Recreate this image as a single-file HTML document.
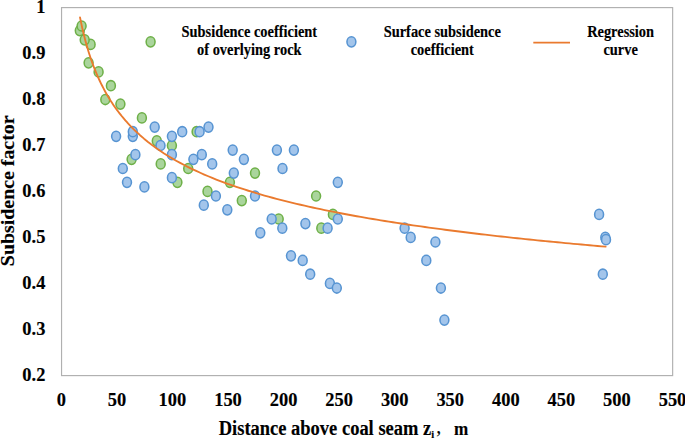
<!DOCTYPE html>
<html><head><meta charset="utf-8"><title>chart</title>
<style>
html,body{margin:0;padding:0;background:#fff;}
body{width:685px;height:439px;overflow:hidden;}
svg{display:block;}
text{font-family:"Liberation Serif",serif;font-weight:bold;fill:#000;stroke:#000;stroke-width:0.15px;}
.t18{font-size:19px;}
.lg{font-size:16px;}
.yt{font-size:18px;}
.xt{font-size:20px;}
</style></head><body>
<svg width="685" height="439" viewBox="0 0 685 439">
<rect x="0" y="0" width="685" height="439" fill="#fff"/>
<rect x="61.55" y="7.6" width="611.1" height="368.0" fill="#fff" stroke="#B0B0B0" stroke-width="1.15"/>
<text transform="translate(45.4,13.4) scale(0.97,1)" text-anchor="end" class="t18" id="y10">1</text><text transform="translate(45.4,59.4) scale(0.97,1)" text-anchor="end" class="t18" id="y9">0.9</text><text transform="translate(45.4,105.3) scale(0.97,1)" text-anchor="end" class="t18" id="y8">0.8</text><text transform="translate(45.4,151.3) scale(0.97,1)" text-anchor="end" class="t18" id="y7">0.7</text><text transform="translate(45.4,197.2) scale(0.97,1)" text-anchor="end" class="t18" id="y6">0.6</text><text transform="translate(45.4,243.2) scale(0.97,1)" text-anchor="end" class="t18" id="y5">0.5</text><text transform="translate(45.4,289.2) scale(0.97,1)" text-anchor="end" class="t18" id="y4">0.4</text><text transform="translate(45.4,335.1) scale(0.97,1)" text-anchor="end" class="t18" id="y3">0.3</text><text transform="translate(45.4,381.1) scale(0.97,1)" text-anchor="end" class="t18" id="y2">0.2</text>
<text transform="translate(61.3,405.6) scale(0.97,1)" text-anchor="middle" class="t18" id="x0">0</text><text transform="translate(116.9,405.6) scale(0.97,1)" text-anchor="middle" class="t18" id="x50">50</text><text transform="translate(172.4,405.6) scale(0.97,1)" text-anchor="middle" class="t18" id="x100">100</text><text transform="translate(228.0,405.6) scale(0.97,1)" text-anchor="middle" class="t18" id="x150">150</text><text transform="translate(283.6,405.6) scale(0.97,1)" text-anchor="middle" class="t18" id="x200">200</text><text transform="translate(339.1,405.6) scale(0.97,1)" text-anchor="middle" class="t18" id="x250">250</text><text transform="translate(394.7,405.6) scale(0.97,1)" text-anchor="middle" class="t18" id="x300">300</text><text transform="translate(450.2,405.6) scale(0.97,1)" text-anchor="middle" class="t18" id="x350">350</text><text transform="translate(505.8,405.6) scale(0.97,1)" text-anchor="middle" class="t18" id="x400">400</text><text transform="translate(561.4,405.6) scale(0.97,1)" text-anchor="middle" class="t18" id="x450">450</text><text transform="translate(616.9,405.6) scale(0.97,1)" text-anchor="middle" class="t18" id="x500">500</text><text transform="translate(672.5,405.6) scale(0.97,1)" text-anchor="middle" class="t18" id="x550">550</text>
<text transform="translate(14.0,190.8) rotate(-90) scale(1.105,1)" text-anchor="middle" class="yt" id="ytitle">Subsidence factor</text>
<text transform="translate(218.7,434.5) scale(0.925,1)" text-anchor="start" class="xt" id="xtitle">Distance above coal seam z</text><text x="432.7" y="438.2" text-anchor="middle" style="font-size:10.5px;font-weight:bold" id="xsub">i</text><text x="436.3" y="432.6" text-anchor="start" style="font-size:20px;font-weight:normal" id="xcomma">,</text><text transform="translate(454.0,434.5) scale(0.9,1)" style="font-size:19px" id="xm">m</text>
<ellipse cx="79.8" cy="30.6" rx="4.45" ry="5.1" fill="#AAD59C" stroke="#6EB048" stroke-width="1.55"/><ellipse cx="81.6" cy="26.0" rx="4.45" ry="5.1" fill="#AAD59C" stroke="#6EB048" stroke-width="1.55"/><ellipse cx="90.6" cy="44.4" rx="4.45" ry="5.1" fill="#AAD59C" stroke="#6EB048" stroke-width="1.55"/><ellipse cx="84.7" cy="39.8" rx="4.45" ry="5.1" fill="#AAD59C" stroke="#6EB048" stroke-width="1.55"/><ellipse cx="88.6" cy="62.8" rx="4.45" ry="5.1" fill="#AAD59C" stroke="#6EB048" stroke-width="1.55"/><ellipse cx="98.6" cy="71.9" rx="4.45" ry="5.1" fill="#AAD59C" stroke="#6EB048" stroke-width="1.55"/><ellipse cx="110.9" cy="85.7" rx="4.45" ry="5.1" fill="#AAD59C" stroke="#6EB048" stroke-width="1.55"/><ellipse cx="105.3" cy="99.5" rx="4.45" ry="5.1" fill="#AAD59C" stroke="#6EB048" stroke-width="1.55"/><ellipse cx="120.4" cy="104.1" rx="4.45" ry="5.1" fill="#AAD59C" stroke="#6EB048" stroke-width="1.55"/><ellipse cx="141.9" cy="117.9" rx="4.45" ry="5.1" fill="#AAD59C" stroke="#6EB048" stroke-width="1.55"/><ellipse cx="156.8" cy="140.9" rx="4.45" ry="5.1" fill="#AAD59C" stroke="#6EB048" stroke-width="1.55"/><ellipse cx="171.9" cy="145.5" rx="4.45" ry="5.1" fill="#AAD59C" stroke="#6EB048" stroke-width="1.55"/><ellipse cx="196.6" cy="131.7" rx="4.45" ry="5.1" fill="#AAD59C" stroke="#6EB048" stroke-width="1.55"/><ellipse cx="131.6" cy="159.3" rx="4.45" ry="5.1" fill="#AAD59C" stroke="#6EB048" stroke-width="1.55"/><ellipse cx="160.7" cy="163.9" rx="4.45" ry="5.1" fill="#AAD59C" stroke="#6EB048" stroke-width="1.55"/><ellipse cx="177.4" cy="182.3" rx="4.45" ry="5.1" fill="#AAD59C" stroke="#6EB048" stroke-width="1.55"/><ellipse cx="188.2" cy="168.5" rx="4.45" ry="5.1" fill="#AAD59C" stroke="#6EB048" stroke-width="1.55"/><ellipse cx="229.9" cy="182.3" rx="4.45" ry="5.1" fill="#AAD59C" stroke="#6EB048" stroke-width="1.55"/><ellipse cx="255.0" cy="173.1" rx="4.45" ry="5.1" fill="#AAD59C" stroke="#6EB048" stroke-width="1.55"/><ellipse cx="207.5" cy="191.4" rx="4.45" ry="5.1" fill="#AAD59C" stroke="#6EB048" stroke-width="1.55"/><ellipse cx="241.8" cy="200.6" rx="4.45" ry="5.1" fill="#AAD59C" stroke="#6EB048" stroke-width="1.55"/><ellipse cx="278.7" cy="219.0" rx="4.45" ry="5.1" fill="#AAD59C" stroke="#6EB048" stroke-width="1.55"/><ellipse cx="316.1" cy="196.0" rx="4.45" ry="5.1" fill="#AAD59C" stroke="#6EB048" stroke-width="1.55"/><ellipse cx="321.3" cy="228.2" rx="4.45" ry="5.1" fill="#AAD59C" stroke="#6EB048" stroke-width="1.55"/><ellipse cx="332.9" cy="214.4" rx="4.45" ry="5.1" fill="#AAD59C" stroke="#6EB048" stroke-width="1.55"/><ellipse cx="116.1" cy="136.3" rx="4.45" ry="5.1" fill="#A3C5EB" stroke="#5794D2" stroke-width="1.55"/><ellipse cx="132.8" cy="136.3" rx="4.45" ry="5.1" fill="#A3C5EB" stroke="#5794D2" stroke-width="1.55"/><ellipse cx="132.8" cy="131.7" rx="4.45" ry="5.1" fill="#A3C5EB" stroke="#5794D2" stroke-width="1.55"/><ellipse cx="154.7" cy="127.1" rx="4.45" ry="5.1" fill="#A3C5EB" stroke="#5794D2" stroke-width="1.55"/><ellipse cx="160.5" cy="145.5" rx="4.45" ry="5.1" fill="#A3C5EB" stroke="#5794D2" stroke-width="1.55"/><ellipse cx="171.9" cy="136.3" rx="4.45" ry="5.1" fill="#A3C5EB" stroke="#5794D2" stroke-width="1.55"/><ellipse cx="182.2" cy="131.7" rx="4.45" ry="5.1" fill="#A3C5EB" stroke="#5794D2" stroke-width="1.55"/><ellipse cx="199.6" cy="131.7" rx="4.45" ry="5.1" fill="#A3C5EB" stroke="#5794D2" stroke-width="1.55"/><ellipse cx="208.5" cy="127.1" rx="4.45" ry="5.1" fill="#A3C5EB" stroke="#5794D2" stroke-width="1.55"/><ellipse cx="171.9" cy="154.7" rx="4.45" ry="5.1" fill="#A3C5EB" stroke="#5794D2" stroke-width="1.55"/><ellipse cx="135.4" cy="154.7" rx="4.45" ry="5.1" fill="#A3C5EB" stroke="#5794D2" stroke-width="1.55"/><ellipse cx="122.8" cy="168.5" rx="4.45" ry="5.1" fill="#A3C5EB" stroke="#5794D2" stroke-width="1.55"/><ellipse cx="171.9" cy="177.7" rx="4.45" ry="5.1" fill="#A3C5EB" stroke="#5794D2" stroke-width="1.55"/><ellipse cx="127.0" cy="182.3" rx="4.45" ry="5.1" fill="#A3C5EB" stroke="#5794D2" stroke-width="1.55"/><ellipse cx="144.4" cy="186.9" rx="4.45" ry="5.1" fill="#A3C5EB" stroke="#5794D2" stroke-width="1.55"/><ellipse cx="193.4" cy="159.3" rx="4.45" ry="5.1" fill="#A3C5EB" stroke="#5794D2" stroke-width="1.55"/><ellipse cx="201.8" cy="154.7" rx="4.45" ry="5.1" fill="#A3C5EB" stroke="#5794D2" stroke-width="1.55"/><ellipse cx="212.2" cy="163.9" rx="4.45" ry="5.1" fill="#A3C5EB" stroke="#5794D2" stroke-width="1.55"/><ellipse cx="232.7" cy="150.1" rx="4.45" ry="5.1" fill="#A3C5EB" stroke="#5794D2" stroke-width="1.55"/><ellipse cx="243.9" cy="159.3" rx="4.45" ry="5.1" fill="#A3C5EB" stroke="#5794D2" stroke-width="1.55"/><ellipse cx="233.8" cy="173.1" rx="4.45" ry="5.1" fill="#A3C5EB" stroke="#5794D2" stroke-width="1.55"/><ellipse cx="276.9" cy="150.1" rx="4.45" ry="5.1" fill="#A3C5EB" stroke="#5794D2" stroke-width="1.55"/><ellipse cx="293.9" cy="150.1" rx="4.45" ry="5.1" fill="#A3C5EB" stroke="#5794D2" stroke-width="1.55"/><ellipse cx="282.5" cy="168.5" rx="4.45" ry="5.1" fill="#A3C5EB" stroke="#5794D2" stroke-width="1.55"/><ellipse cx="337.8" cy="182.3" rx="4.45" ry="5.1" fill="#A3C5EB" stroke="#5794D2" stroke-width="1.55"/><ellipse cx="215.9" cy="196.0" rx="4.45" ry="5.1" fill="#A3C5EB" stroke="#5794D2" stroke-width="1.55"/><ellipse cx="203.8" cy="205.2" rx="4.45" ry="5.1" fill="#A3C5EB" stroke="#5794D2" stroke-width="1.55"/><ellipse cx="227.3" cy="209.8" rx="4.45" ry="5.1" fill="#A3C5EB" stroke="#5794D2" stroke-width="1.55"/><ellipse cx="255.0" cy="196.0" rx="4.45" ry="5.1" fill="#A3C5EB" stroke="#5794D2" stroke-width="1.55"/><ellipse cx="271.7" cy="219.0" rx="4.45" ry="5.1" fill="#A3C5EB" stroke="#5794D2" stroke-width="1.55"/><ellipse cx="282.3" cy="228.2" rx="4.45" ry="5.1" fill="#A3C5EB" stroke="#5794D2" stroke-width="1.55"/><ellipse cx="260.3" cy="232.8" rx="4.45" ry="5.1" fill="#A3C5EB" stroke="#5794D2" stroke-width="1.55"/><ellipse cx="305.4" cy="223.6" rx="4.45" ry="5.1" fill="#A3C5EB" stroke="#5794D2" stroke-width="1.55"/><ellipse cx="327.6" cy="228.2" rx="4.45" ry="5.1" fill="#A3C5EB" stroke="#5794D2" stroke-width="1.55"/><ellipse cx="337.8" cy="219.0" rx="4.45" ry="5.1" fill="#A3C5EB" stroke="#5794D2" stroke-width="1.55"/><ellipse cx="291.0" cy="255.8" rx="4.45" ry="5.1" fill="#A3C5EB" stroke="#5794D2" stroke-width="1.55"/><ellipse cx="302.7" cy="260.4" rx="4.45" ry="5.1" fill="#A3C5EB" stroke="#5794D2" stroke-width="1.55"/><ellipse cx="310.2" cy="274.2" rx="4.45" ry="5.1" fill="#A3C5EB" stroke="#5794D2" stroke-width="1.55"/><ellipse cx="329.9" cy="283.4" rx="4.45" ry="5.1" fill="#A3C5EB" stroke="#5794D2" stroke-width="1.55"/><ellipse cx="336.8" cy="288.0" rx="4.45" ry="5.1" fill="#A3C5EB" stroke="#5794D2" stroke-width="1.55"/><ellipse cx="404.6" cy="228.2" rx="4.45" ry="5.1" fill="#A3C5EB" stroke="#5794D2" stroke-width="1.55"/><ellipse cx="410.7" cy="237.4" rx="4.45" ry="5.1" fill="#A3C5EB" stroke="#5794D2" stroke-width="1.55"/><ellipse cx="435.4" cy="242.0" rx="4.45" ry="5.1" fill="#A3C5EB" stroke="#5794D2" stroke-width="1.55"/><ellipse cx="426.3" cy="260.4" rx="4.45" ry="5.1" fill="#A3C5EB" stroke="#5794D2" stroke-width="1.55"/><ellipse cx="440.9" cy="288.0" rx="4.45" ry="5.1" fill="#A3C5EB" stroke="#5794D2" stroke-width="1.55"/><ellipse cx="444.4" cy="320.1" rx="4.45" ry="5.1" fill="#A3C5EB" stroke="#5794D2" stroke-width="1.55"/><ellipse cx="599.1" cy="214.4" rx="4.45" ry="5.1" fill="#A3C5EB" stroke="#5794D2" stroke-width="1.55"/><ellipse cx="605.3" cy="237.4" rx="4.45" ry="5.1" fill="#A3C5EB" stroke="#5794D2" stroke-width="1.55"/><ellipse cx="606.0" cy="239.7" rx="4.45" ry="5.1" fill="#A3C5EB" stroke="#5794D2" stroke-width="1.55"/><ellipse cx="602.8" cy="274.2" rx="4.45" ry="5.1" fill="#A3C5EB" stroke="#5794D2" stroke-width="1.55"/>
<path d="M80.02,17.34 L81.25,23.35 L82.48,28.93 L83.71,34.13 L84.94,38.99 L86.17,43.56 L87.40,47.86 L88.63,51.93 L89.86,55.77 L91.09,59.43 L92.32,62.90 L93.55,66.21 L94.78,69.37 L96.01,72.40 L97.24,75.29 L98.47,78.07 L99.70,80.74 L100.93,83.31 L102.16,85.78 L103.39,88.17 L104.62,90.47 L105.84,92.69 L107.07,94.84 L108.30,96.93 L109.53,98.94 L110.76,100.90 L111.99,102.80 L113.22,104.64 L114.45,106.43 L115.68,108.17 L116.91,109.87 L118.14,111.52 L119.37,113.12 L120.60,114.69 L121.83,116.21 L123.06,117.70 L124.29,119.16 L125.52,120.58 L126.75,121.97 L127.98,123.32 L131.99,127.55 L136.00,131.50 L140.02,135.19 L144.03,138.67 L148.04,141.94 L152.06,145.04 L156.07,147.98 L160.09,150.76 L164.10,153.42 L168.11,155.95 L172.13,158.37 L176.14,160.69 L180.15,162.91 L184.17,165.04 L188.18,167.08 L192.19,169.05 L196.21,170.95 L200.22,172.78 L204.24,174.55 L208.25,176.26 L212.26,177.92 L216.28,179.52 L220.29,181.07 L224.30,182.57 L228.32,184.04 L232.33,185.45 L236.35,186.83 L240.36,188.18 L244.37,189.48 L248.39,190.75 L252.40,191.99 L256.41,193.20 L260.43,194.38 L264.44,195.53 L268.45,196.65 L272.47,197.74 L276.48,198.81 L280.50,199.86 L284.51,200.89 L288.52,201.89 L292.54,202.87 L296.55,203.83 L300.56,204.77 L304.58,205.69 L308.59,206.60 L312.60,207.48 L316.62,208.35 L320.63,209.20 L324.65,210.04 L328.66,210.86 L332.67,211.67 L336.69,212.46 L340.70,213.24 L344.71,214.01 L348.73,214.76 L352.74,215.50 L356.75,216.22 L360.77,216.94 L364.78,217.64 L368.80,218.34 L372.81,219.02 L376.82,219.69 L380.84,220.35 L384.85,221.00 L388.86,221.64 L392.88,222.27 L396.89,222.90 L400.90,223.51 L404.92,224.12 L408.93,224.71 L412.95,225.30 L416.96,225.88 L420.97,226.45 L424.99,227.02 L429.00,227.57 L433.01,228.12 L437.03,228.67 L441.04,229.20 L445.06,229.73 L449.07,230.25 L453.08,230.77 L457.10,231.28 L461.11,231.78 L465.12,232.28 L469.14,232.77 L473.15,233.25 L477.16,233.73 L481.18,234.21 L485.19,234.68 L489.21,235.14 L493.22,235.60 L497.23,236.05 L501.25,236.50 L505.26,236.94 L509.27,237.38 L513.29,237.81 L517.30,238.24 L521.31,238.66 L525.33,239.08 L529.34,239.50 L533.36,239.91 L537.37,240.32 L541.38,240.72 L545.40,241.12 L549.41,241.51 L553.42,241.90 L557.44,242.29 L561.45,242.67 L565.46,243.05 L569.48,243.43 L573.49,243.80 L577.51,244.17 L581.52,244.53 L585.53,244.90 L589.55,245.25 L593.56,245.61 L597.57,245.96 L601.59,246.31 L605.60,246.66" fill="none" stroke="#EA7A2E" stroke-width="1.85" stroke-linecap="round" stroke-linejoin="round"/>
<ellipse cx="150.6" cy="41.8" rx="4.45" ry="5.1" fill="#AAD59C" stroke="#6EB048" stroke-width="1.55"/>
<ellipse cx="351.4" cy="41.8" rx="4.45" ry="5.1" fill="#A3C5EB" stroke="#5794D2" stroke-width="1.55"/>
<line x1="533.3" y1="42.6" x2="570" y2="42.6" stroke="#EA7A2E" stroke-width="1.85"/>
<text transform="translate(249.3,36.5) scale(0.9,1)" text-anchor="middle" class="lg" id="l1a">Subsidence coefficient</text><text transform="translate(249.3,55.0) scale(0.9,1)" text-anchor="middle" class="lg" id="l1b">of overlying rock</text><text transform="translate(442.3,36.5) scale(0.9,1)" text-anchor="middle" class="lg" id="l2a">Surface subsidence</text><text transform="translate(442.3,55.0) scale(0.9,1)" text-anchor="middle" class="lg" id="l2b">coefficient</text><text transform="translate(620.6,36.5) scale(0.9,1)" text-anchor="middle" class="lg" id="l3a">Regression</text><text transform="translate(620.6,55.0) scale(0.9,1)" text-anchor="middle" class="lg" id="l3b">curve</text>
</svg>
</body></html>
